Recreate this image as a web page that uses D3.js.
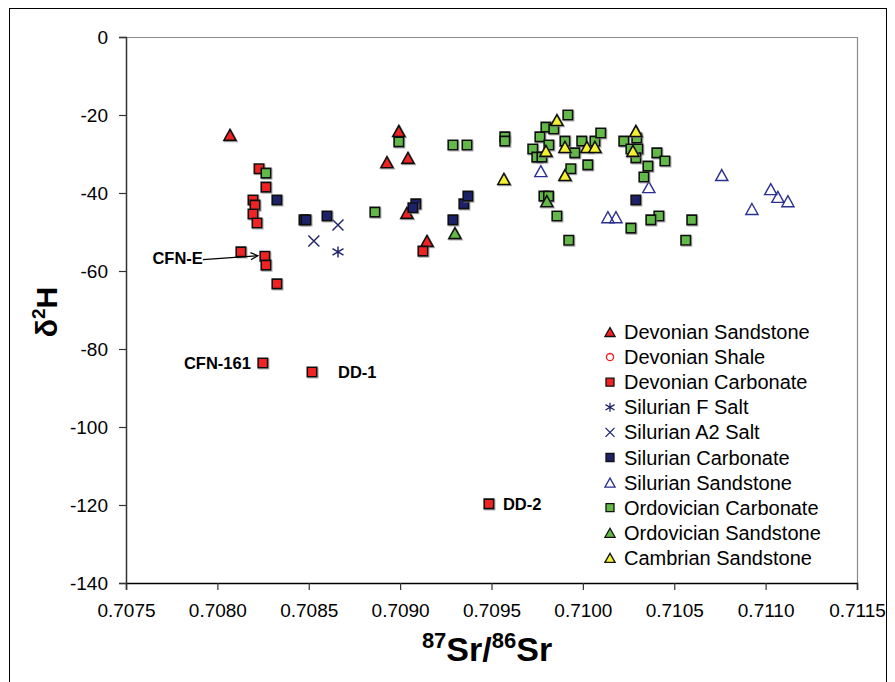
<!DOCTYPE html>
<html>
<head>
<meta charset="utf-8">
<script src="https://cdn.jsdelivr.net/npm/d3@7"></script>
<style>
  html, body { margin: 0; padding: 0; background: #ffffff; }
  svg { display: block; font-family: "Liberation Sans", Arial, sans-serif; }
</style>
</head>
<body>
<div id="chart"></div>
<script>
// ---- data (x = 87Sr/86Sr, y = delta 2H) ----
const devonianSandstone = [
  [0.708069, -25.1], [0.708993, -24.1], [0.708928, -32.1], [0.709043, -31.0],
  [0.709037, -45.1], [0.709147, -52.3]
];
const devonianShale = [];
const devonianCarbonate = [
  [0.708228, -33.8], [0.708266, -38.5], [0.708195, -41.8], [0.708206, -43.1],
  [0.708195, -45.4], [0.708217, -47.7], [0.708129, -55.1], [0.708260, -56.2],
  [0.708266, -58.5], [0.708326, -63.3], [0.709125, -54.9], [0.708249, -83.6],
  [0.708518, -85.9], [0.709486, -119.7]
];
const silurianFSalt = [[0.708660, -55.1]];
const silurianA2Salt = [[0.708660, -48.2], [0.708528, -52.3]];
const silurianCarbonate = [
  [0.708326, -41.8], [0.708474, -46.9], [0.708485, -46.9], [0.708600, -45.9],
  [0.709086, -42.8], [0.709070, -43.8], [0.709289, -46.9], [0.709349, -42.8],
  [0.709371, -40.8], [0.710290, -41.8]
];
const silurianSandstone = [
  [0.709770, -34.4], [0.710137, -46.2], [0.710181, -46.2], [0.710361, -38.5],
  [0.710760, -35.4], [0.710925, -44.1], [0.711028, -39.0], [0.711067, -41.0],
  [0.711122, -42.1]
];
const ordovicianCarbonate = [
  [0.708266, -34.9], [0.708993, -26.9], [0.709289, -27.7], [0.709366, -27.7],
  [0.708862, -44.9], [0.709573, -25.6], [0.709573, -26.7], [0.709918, -20.0],
  [0.709798, -23.1], [0.709841, -23.6], [0.709765, -25.6], [0.709814, -27.7],
  [0.709726, -28.7], [0.709748, -30.8], [0.709776, -30.8], [0.709902, -26.7],
  [0.709994, -26.7], [0.709956, -29.7], [0.710066, -26.7], [0.710098, -24.6],
  [0.710027, -32.8], [0.709934, -33.8], [0.709787, -40.8], [0.709812, -40.8],
  [0.709858, -45.9], [0.709923, -52.1], [0.710224, -26.7], [0.710295, -25.9],
  [0.710263, -28.7], [0.710301, -28.7], [0.710290, -31.0], [0.710405, -29.7],
  [0.710449, -31.8], [0.710356, -33.1], [0.710334, -35.9], [0.710416, -45.9],
  [0.710372, -46.9], [0.710596, -46.9], [0.710263, -49.0], [0.710563, -52.1]
];
const ordovicianSandstone = [[0.709300, -50.3], [0.709803, -42.1]];
const cambrianSandstone = [
  [0.709568, -36.4], [0.709858, -21.3], [0.709798, -29.2], [0.709902, -28.2],
  [0.709902, -35.4], [0.710022, -28.2], [0.710066, -28.2], [0.710290, -24.1],
  [0.710274, -29.2]
];

const seriesNames = [
  "Devonian Sandstone", "Devonian Shale", "Devonian Carbonate", "Silurian F Salt",
  "Silurian A2 Salt", "Silurian Carbonate", "Silurian Sandstone",
  "Ordovician Carbonate", "Ordovician Sandstone", "Cambrian Sandstone"
];
const seriesValues = [
  devonianSandstone, devonianShale, devonianCarbonate, silurianFSalt, silurianA2Salt,
  silurianCarbonate, silurianSandstone, ordovicianCarbonate, ordovicianSandstone,
  cambrianSandstone
];

const xTicks = [0.7075, 0.7080, 0.7085, 0.7090, 0.7095, 0.7100, 0.7105, 0.7110, 0.7115];
const yTicks = [0, -20, -40, -60, -80, -100, -120, -140];

// sample labels: [text, x, y] of the point they name
const sampleLabels = [
  ["CFN-161", 0.708249, -83.6],
  ["DD-1", 0.708518, -85.9],
  ["DD-2", 0.709486, -119.7],
  ["CFN-E", 0.708260, -56.2]
];

// ---- look of each series ----
const RED = "#f02222", NAVY = "#1f226b", GREEN = "#62b946", YELLOW = "#f4f033";
const styles = [
  { shape: "tri", fill: RED, stroke: "#111" },
  { shape: "circle", fill: "none", stroke: RED },
  { shape: "square", fill: RED, stroke: "#111" },
  { shape: "star", fill: "none", stroke: NAVY },
  { shape: "cross", fill: "none", stroke: NAVY },
  { shape: "square", fill: NAVY, stroke: "#111" },
  { shape: "tri", fill: "none", stroke: "#2b2f8f" },
  { shape: "square", fill: GREEN, stroke: "#111" },
  { shape: "tri", fill: GREEN, stroke: "#111" },
  { shape: "tri", fill: YELLOW, stroke: "#111" }
];

function markerPath(shape, s) {
  const h = s / 2;
  if (shape === "square") return `M${-h},${-h}H${h}V${h}H${-h}Z`;
  if (shape === "tri") return `M0,${-h}L${h + 0.6},${h}H${-h - 0.6}Z`;
  if (shape === "circle") return d3.arc()({ innerRadius: 0, outerRadius: h * 0.8, startAngle: 0, endAngle: 2 * Math.PI });
  if (shape === "cross") return `M${-h},${-h}L${h},${h}M${-h},${h}L${h},${-h}`;
  if (shape === "star") return `M${-h},${-h * 0.6}L${h},${h * 0.6}M${-h},${h * 0.6}L${h},${-h * 0.6}M0,${-h}V${h}`;
}

const W = 895, H = 682;
const margin = { left: 126, right: 857, top: 37, bottom: 583 };

const svg = d3.select("#chart").append("svg")
  .attr("width", W).attr("height", H);

const defs = svg.append("defs");
const shadow = defs.append("filter").attr("id", "shadow")
  .attr("x", "-50%").attr("y", "-50%").attr("width", "200%").attr("height", "200%");
shadow.append("feDropShadow").attr("dx", 1).attr("dy", 1).attr("stdDeviation", 0.6)
  .attr("flood-color", "#777").attr("flood-opacity", 0.6);

defs.append("marker").attr("id", "arrow")
  .attr("viewBox", "0 0 10 10").attr("refX", 9).attr("refY", 5)
  .attr("markerWidth", 9).attr("markerHeight", 9).attr("orient", "auto")
  .attr("markerUnits", "userSpaceOnUse")
  .append("path").attr("d", "M1,1L9,5L1,9")
  .attr("fill", "none").attr("stroke", "#000").attr("stroke-width", 1.3);

// outer frame
svg.append("rect").attr("x", 9.5).attr("y", 8.5).attr("width", 877).attr("height", 700)
  .attr("fill", "none").attr("stroke", "#000").attr("stroke-width", 1);

const x = d3.scaleLinear().domain([0.7075, 0.7115]).range([margin.left, margin.right]);
const y = d3.scaleLinear().domain([-140, 0]).range([margin.bottom, margin.top]);

// plot area border (top / right in gray)
svg.append("path")
  .attr("d", `M${margin.left},${margin.top + 0.5}H${margin.right + 0.5}V${margin.bottom}`)
  .attr("fill", "none").attr("stroke", "#8c8c8c").attr("stroke-width", 1.2);

// axes
const xAxis = svg.append("g")
  .attr("transform", `translate(0,${margin.bottom})`)
  .call(d3.axisBottom(x).tickValues(xTicks).tickFormat(d3.format(".4f")).tickSize(7).tickPadding(14));
const yAxis = svg.append("g")
  .attr("transform", `translate(${margin.left},0)`)
  .call(d3.axisLeft(y).tickValues(yTicks).tickFormat(d => d === 0 ? "0" : String(d).replace("−", "-")).tickSize(7).tickPadding(11));

[xAxis, yAxis].forEach(g => {
  g.selectAll("text").style("font-size", "19px").style("font-family", "'Liberation Sans', Arial, sans-serif").attr("fill", "#000");
  g.select(".domain").attr("stroke", "#333").attr("stroke-width", 1.5);
  g.selectAll(".tick line").attr("stroke", "#333").attr("stroke-width", 1.2);
});
xAxis.select(".domain").attr("stroke", "#000");

// axis titles
const xt = svg.append("text")
  .attr("x", 487).attr("y", 661)
  .attr("text-anchor", "middle")
  .style("font-weight", "bold").style("font-size", "34px");
xt.append("tspan").text("87").style("font-size", "22px").attr("dy", -13);
xt.append("tspan").text("Sr/").attr("dy", 13);
xt.append("tspan").text("86").style("font-size", "22px").attr("dy", -13);
xt.append("tspan").text("Sr").attr("dy", 13);

const yt = svg.append("text")
  .attr("transform", "translate(57,312) rotate(-90)")
  .attr("text-anchor", "middle")
  .style("font-weight", "bold").style("font-size", "30px");
yt.append("tspan").text("δ");
yt.append("tspan").text("2").style("font-size", "19px").attr("dy", -12);
yt.append("tspan").text("H").attr("dy", 12);

// points, drawn in series order like the spreadsheet
seriesValues.forEach((vals, i) => {
  const st = styles[i];
  svg.append("g").attr("class", "series")
    .selectAll("path").data(vals).join("path")
    .attr("transform", d => `translate(${x(d[0])},${y(d[1])})`)
    .attr("d", markerPath(st.shape, st.shape === "square" ? 9.5 : 11))
    .attr("fill", st.fill)
    .attr("stroke", st.stroke)
    .attr("stroke-width", st.fill === "none" ? 1.4 : 1.6)
    .attr("filter", st.fill === "none" ? null : "url(#shadow)");
});

// sample labels
const lbl = svg.append("g").style("font-weight", "bold").style("font-size", "16.5px");
sampleLabels.forEach(([t, vx, vy]) => {
  const px = x(vx), py = y(vy);
  if (t === "CFN-161") {
    lbl.append("text").attr("x", px - 12).attr("y", py + 6).attr("text-anchor", "end").text(t);
  } else if (t === "CFN-E") {
    lbl.append("text").attr("x", px - 62).attr("y", py + 8).attr("text-anchor", "end").text(t);
    svg.append("line").attr("x1", px - 62).attr("y1", py + 3.5).attr("x2", px - 7).attr("y2", py - 0.5)
      .attr("stroke", "#000").attr("stroke-width", 1.2).attr("marker-end", "url(#arrow)");
  } else if (t === "DD-1") {
    lbl.append("text").attr("x", px + 26).attr("y", py + 6).attr("text-anchor", "start").text(t);
  } else {
    lbl.append("text").attr("x", px + 14).attr("y", py + 6).attr("text-anchor", "start").text(t);
  }
});

// legend
const legend = svg.append("g").attr("transform", "translate(610,332)");
seriesNames.forEach((name, i) => {
  const st = styles[i];
  const row = legend.append("g").attr("transform", `translate(0,${i * 25.1})`);
  row.append("path")
    .attr("d", markerPath(st.shape, st.shape === "square" ? 8 : 9))
    .attr("fill", st.fill).attr("stroke", st.stroke)
    .attr("stroke-width", 1.3);
  row.append("text").attr("x", 14).attr("y", 7)
    .style("font-size", "20px").text(name);
});
</script>
</body>
</html>
